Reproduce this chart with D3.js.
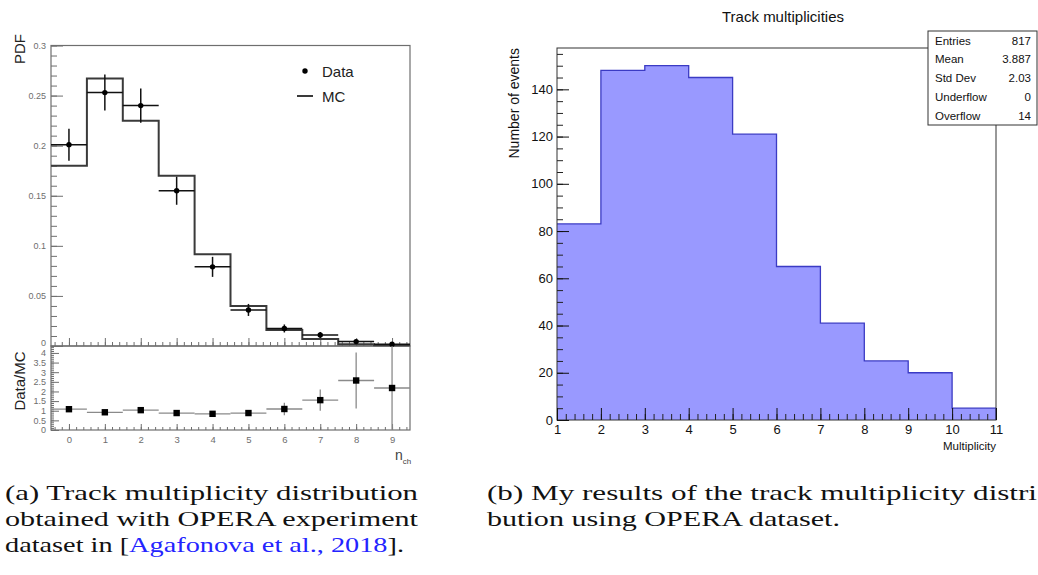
<!DOCTYPE html>
<meta charset="utf-8">
<style>
  body { margin: 0; background: #fff; }
  svg { display: block; font-family: "Liberation Sans", Arial, Helvetica, sans-serif; }
</style>
<body>
<div id="chart"></div>

<!-- load the d3.js library -->
<script src="https://d3js.org/d3.v7.min.js"></script>

<script>
// ---------- data, left panel (OPERA paper) ----------
var nch       = [0, 1, 2, 3, 4, 5, 6, 7, 8, 9];
var dataPdf   = [0.201, 0.253, 0.240, 0.155, 0.079, 0.036, 0.0175, 0.011, 0.0044, 0.0018];
var dataErr   = [0.016, 0.018, 0.017, 0.014, 0.010, 0.006, 0.004, 0.003, 0.002, 0.0015];
var mcPdf     = [0.180, 0.267, 0.225, 0.170, 0.0915, 0.040, 0.016, 0.007, 0.0017, 0.0008];
var ratio     = [1.08, 0.92, 1.03, 0.88, 0.84, 0.88, 1.09, 1.55, 2.57, 2.18];
var ratioErr  = [0.08, 0.07, 0.07, 0.08, 0.10, 0.15, 0.32, 0.55, 1.45, 2.3];
var pdfTicks   = [0, 0.05, 0.1, 0.15, 0.2, 0.25, 0.3];
var ratioTicks = [0, 0.5, 1, 1.5, 2, 2.5, 3, 3.5, 4];
var legendItems = ["Data", "MC"];

// ---------- data, right panel (my results) ----------
var multLow    = [1, 2, 3, 4, 5, 6, 7, 8, 9, 10];
var counts     = [83, 148, 150, 145, 121, 65, 41, 25, 20, 5];
var countTicks = [0, 20, 40, 60, 80, 100, 120, 140];
var multTicks  = [1, 2, 3, 4, 5, 6, 7, 8, 9, 10, 11];
var statNames  = ["Entries", "Mean", "Std Dev", "Underflow", "Overflow"];
var statValues = ["817", "3.887", "2.03", "0", "14"];

var svg = d3.select("#chart").append("svg")
    .attr("width", 1038)
    .attr("height", 575);

// ================= LEFT PANEL =================
var grey = "#6e6e6e";
var xL = d3.scaleLinear().domain([-0.5, 9.5]).range([51, 410]);
var yU = d3.scaleLinear().domain([0, 0.3]).range([346, 45.5]);
var yR = d3.scaleLinear().domain([0, 4.36]).range([430, 346]);

var left = svg.append("g");

// frames
left.append("rect")
    .attr("x", xL(-0.5)).attr("y", yU(0.3))
    .attr("width", xL(9.5) - xL(-0.5)).attr("height", yU(0) - yU(0.3))
    .attr("fill", "none").attr("stroke", grey).attr("stroke-width", 1.2);
left.append("rect")
    .attr("x", xL(-0.5)).attr("y", yR(4.36))
    .attr("width", xL(9.5) - xL(-0.5)).attr("height", yR(0) - yR(4.36))
    .attr("fill", "none").attr("stroke", grey).attr("stroke-width", 1.2);

// helper to style a ROOT-like axis
function styleAxis(g, col, fs) {
  g.select(".domain").remove();
  g.selectAll("line").attr("stroke", col);
  g.selectAll("text").attr("fill", col).style("font-size", fs + "px").style("font-family", "inherit");
}

// upper y axis
left.append("g")
    .attr("transform", "translate(" + xL(-0.5) + ",0)")
    .call(d3.axisLeft(yU).tickValues(d3.range(0, 0.3001, 0.01)).tickSize(-6).tickFormat(""))
    .call(styleAxis, grey, 9);
var upperY = left.append("g")
    .attr("transform", "translate(" + xL(-0.5) + ",0)")
    .call(d3.axisLeft(yU).tickValues(pdfTicks).tickSize(-12).tickPadding(5).tickFormat(d3.format("~g")))
    .call(styleAxis, grey, 9);
// lift the "0" label a little so it clears the ratio pad's "4"
upperY.selectAll(".tick text").filter(function(d) { return d === 0; }).attr("y", -3.5);

// upper x ticks (no labels)
left.append("g")
    .attr("transform", "translate(0," + yU(0) + ")")
    .call(d3.axisBottom(xL).tickValues(d3.range(-0.4, 9.5, 0.2)).tickSize(-4).tickFormat(""))
    .call(styleAxis, grey, 9);
left.append("g")
    .attr("transform", "translate(0," + yU(0) + ")")
    .call(d3.axisBottom(xL).tickValues(nch).tickSize(-8).tickFormat(""))
    .call(styleAxis, grey, 9);

// lower y axis
left.append("g")
    .attr("transform", "translate(" + xL(-0.5) + ",0)")
    .call(d3.axisLeft(yR).tickValues(d3.range(0, 4.36, 0.1)).tickSize(-3).tickFormat(""))
    .call(styleAxis, grey, 9);
left.append("g")
    .attr("transform", "translate(" + xL(-0.5) + ",0)")
    .call(d3.axisLeft(yR).tickValues(ratioTicks).tickSize(-8).tickPadding(5).tickFormat(d3.format("~g")))
    .call(styleAxis, grey, 9);

// lower x axis
left.append("g")
    .attr("transform", "translate(0," + yR(0) + ")")
    .call(d3.axisBottom(xL).tickValues(d3.range(-0.4, 9.5, 0.2)).tickSize(-3).tickFormat(""))
    .call(styleAxis, grey, 9);
left.append("g")
    .attr("transform", "translate(0," + yR(0) + ")")
    .call(d3.axisBottom(xL).tickValues(nch).tickSize(-6).tickPadding(6).tickFormat(d3.format("d")))
    .call(styleAxis, grey, 9.5);

// MC step histogram
var mcPts = nch.map(function(n, i) { return [n - 0.5, mcPdf[i]]; });
mcPts.push([9.5, mcPdf[mcPdf.length - 1]]);
left.append("path")
    .attr("d", d3.line().curve(d3.curveStepAfter)
        .x(function(d) { return xL(d[0]); })
        .y(function(d) { return yU(d[1]); })(mcPts))
    .attr("fill", "none").attr("stroke", "#3a3a3a").attr("stroke-width", 2);

// data points with error bars
left.selectAll(".hbar").data(nch).enter().append("line")
    .attr("x1", function(d) { return xL(d - 0.5); })
    .attr("x2", function(d) { return xL(d + 0.5); })
    .attr("y1", function(d, i) { return yU(dataPdf[i]); })
    .attr("y2", function(d, i) { return yU(dataPdf[i]); })
    .attr("stroke", "#111").attr("stroke-width", 1.5);
left.selectAll(".vbar").data(nch).enter().append("line")
    .attr("x1", function(d) { return xL(d); })
    .attr("x2", function(d) { return xL(d); })
    .attr("y1", function(d, i) { return yU(dataPdf[i] - dataErr[i]); })
    .attr("y2", function(d, i) { return yU(dataPdf[i] + dataErr[i]); })
    .attr("stroke", "#111").attr("stroke-width", 1.5);
left.selectAll(".dot").data(nch).enter().append("circle")
    .attr("cx", function(d) { return xL(d); })
    .attr("cy", function(d, i) { return yU(dataPdf[i]); })
    .attr("r", 2.7).attr("fill", "#000");

// ratio points
var rTop = yR.domain()[1];
left.selectAll(".rh").data(nch).enter().append("line")
    .attr("x1", function(d) { return xL(d - 0.5); })
    .attr("x2", function(d) { return xL(d + 0.5); })
    .attr("y1", function(d, i) { return yR(ratio[i]); })
    .attr("y2", function(d, i) { return yR(ratio[i]); })
    .attr("stroke", "#8a8a8a").attr("stroke-width", 1.3);
left.selectAll(".rv").data(nch).enter().append("line")
    .attr("x1", function(d) { return xL(d); })
    .attr("x2", function(d) { return xL(d); })
    .attr("y1", function(d, i) { return yR(Math.max(0, ratio[i] - ratioErr[i])); })
    .attr("y2", function(d, i) { return yR(Math.min(rTop, ratio[i] + ratioErr[i])); })
    .attr("stroke", "#8a8a8a").attr("stroke-width", 1.3);
left.selectAll(".rs").data(nch).enter().append("rect")
    .attr("x", function(d) { return xL(d) - 3.2; })
    .attr("y", function(d, i) { return yR(ratio[i]) - 3.2; })
    .attr("width", 6.4).attr("height", 6.4).attr("fill", "#000");

// axis titles
left.append("text")
    .attr("transform", "translate(24.5,49) rotate(-90)")
    .style("text-anchor", "middle").style("font-size", "15px").attr("fill", "#222")
    .text("PDF");
left.append("text")
    .attr("transform", "translate(25,381) rotate(-90)")
    .style("text-anchor", "middle").style("font-size", "15px").attr("fill", "#222")
    .text("Data/MC");
var nt = left.append("text").attr("x", 395).attr("y", 460).attr("fill", "#444").style("font-size", "14px");
nt.append("tspan").text("n");
nt.append("tspan").attr("dy", 4).style("font-size", "8px").text("ch");

// legend
left.append("circle").attr("cx", 305).attr("cy", 71).attr("r", 2.7).attr("fill", "#000");
left.append("line").attr("x1", 297).attr("x2", 313).attr("y1", 96).attr("y2", 96)
    .attr("stroke", "#3a3a3a").attr("stroke-width", 2);
left.selectAll(".leg").data(legendItems).enter().append("text")
    .attr("x", 322)
    .attr("y", function(d, i) { return 76.5 + i * 25; })
    .style("font-size", "15px").attr("fill", "#222")
    .text(function(d) { return d; });

// ================= RIGHT PANEL =================
var xM = d3.scaleLinear().domain([1, 11]).range([557, 996]);
var yC = d3.scaleLinear().domain([0, 157.5]).range([420, 48]);
var right = svg.append("g");

var hPts = multLow.map(function(m, i) { return [m, counts[i]]; });
hPts.push([11, counts[counts.length - 1]]);

// filled histogram
right.append("path")
    .attr("d", d3.area().curve(d3.curveStepAfter)
        .x(function(d) { return xM(d[0]); })
        .y0(yC(0))
        .y1(function(d) { return yC(d[1]); })(hPts))
    .attr("fill", "#9999ff");
right.append("path")
    .attr("d", d3.line().curve(d3.curveStepAfter)
        .x(function(d) { return xM(d[0]); })
        .y(function(d) { return yC(d[1]); })(hPts))
    .attr("fill", "none").attr("stroke", "#3b3bc4").attr("stroke-width", 1.3);
right.append("line")
    .attr("x1", xM(11)).attr("x2", xM(11))
    .attr("y1", yC(0)).attr("y2", yC(counts[counts.length - 1]))
    .attr("stroke", "#3b3bc4").attr("stroke-width", 1.3);

// frame
right.append("rect")
    .attr("x", xM(1)).attr("y", yC(157.5))
    .attr("width", xM(11) - xM(1)).attr("height", yC(0) - yC(157.5))
    .attr("fill", "none").attr("stroke", "#333").attr("stroke-width", 1);

// axes
right.append("g")
    .attr("transform", "translate(" + xM(1) + ",0)")
    .call(d3.axisLeft(yC).tickValues(d3.range(0, 157.5, 5)).tickSize(-6).tickFormat(""))
    .call(styleAxis, "#222", 13);
right.append("g")
    .attr("transform", "translate(" + xM(1) + ",0)")
    .call(d3.axisLeft(yC).tickValues(countTicks).tickSize(-12).tickPadding(4).tickFormat(d3.format("d")))
    .call(styleAxis, "#111", 13);
right.append("g")
    .attr("transform", "translate(0," + yC(0) + ")")
    .call(d3.axisBottom(xM).tickValues(d3.range(1.2, 11, 0.2)).tickSize(-6).tickFormat(""))
    .call(styleAxis, "#222", 13);
right.append("g")
    .attr("transform", "translate(0," + yC(0) + ")")
    .call(d3.axisBottom(xM).tickValues(multTicks).tickSize(-12).tickPadding(5).tickFormat(d3.format("d")))
    .call(styleAxis, "#111", 13);

// titles
right.append("text")
    .attr("x", 783).attr("y", 22)
    .style("text-anchor", "middle").style("font-size", "15px").attr("fill", "#111")
    .text("Track multiplicities");
right.append("text")
    .attr("transform", "translate(519,48) rotate(-90)")
    .style("text-anchor", "end").style("font-size", "14px").attr("fill", "#111")
    .text("Number of events");
right.append("text")
    .attr("x", xM(11)).attr("y", 450)
    .style("text-anchor", "end").style("font-size", "11.5px").attr("fill", "#111")
    .text("Multiplicity");

// stats box
var box = right.append("g");
box.append("rect")
    .attr("x", 928).attr("y", 31).attr("width", 109).attr("height", 94)
    .attr("fill", "#fff").attr("stroke", "#333").attr("stroke-width", 1);
box.selectAll(".sn").data(statNames).enter().append("text")
    .attr("x", 935)
    .attr("y", function(d, i) { return 40.4 + i * 18.8; })
    .attr("dy", "0.36em")
    .style("font-size", "11.5px").attr("fill", "#111")
    .text(function(d) { return d; });
box.selectAll(".sv").data(statValues).enter().append("text")
    .attr("x", 1031)
    .attr("y", function(d, i) { return 40.4 + i * 18.8; })
    .attr("dy", "0.36em")
    .style("text-anchor", "end").style("font-size", "11.5px").attr("fill", "#111")
    .text(function(d) { return d; });

// ================= CAPTIONS =================
var cap = svg.append("g")
    .style("font-family", "'Liberation Serif', 'DejaVu Serif', serif")
    .style("font-size", "22px")
    .attr("fill", "#111");

function capLine(x, y, w) {
  return cap.append("text")
      .attr("x", x).attr("y", y)
      .attr("textLength", w)
      .attr("lengthAdjust", "spacingAndGlyphs");
}
capLine(5, 500, 413).text("(a) Track multiplicity distribution");
capLine(5, 526, 413).text("obtained with OPERA experiment");
var c3 = capLine(5, 552, 399);
c3.append("tspan").text("dataset in [");
c3.append("tspan").attr("fill", "#2424ff").text("Agafonova et al., 2018");
c3.append("tspan").text("].");
capLine(487, 500, 550).text("(b) My results of the track multiplicity distri");
capLine(487, 526, 353).text("bution using OPERA dataset.");
</script>
</body>
